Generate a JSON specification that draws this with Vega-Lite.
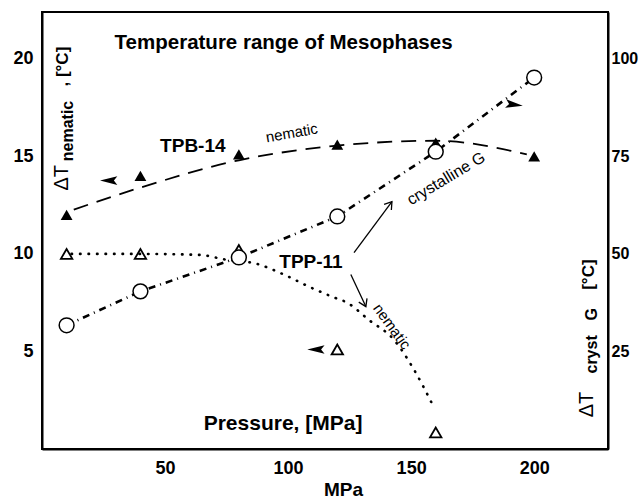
{
  "$schema": "https://vega.github.io/schema/vega-lite/v6.json",
  "width": 566,
  "height": 437,
  "autosize": {"type": "none"},
  "padding": {"left": 42, "top": 12, "right": 33, "bottom": 49},
  "background": "white",
  "config": {
    "view": {"stroke": "black", "strokeWidth": 2},
    "axis": {"domainColor": "black", "domainWidth": 2, "ticks": false, "labelFont": "Liberation Sans", "labelFontWeight": "bold", "labelFontSize": 18, "labelColor": "black", "grid": false, "titleFont": "Liberation Sans", "titleColor": "black"},
    "text": {"font": "Liberation Sans", "color": "black"}
  },
  "datasets": {
    "tpb": [{"p": 10, "t": 12.0}, {"p": 40, "t": 14.0}, {"p": 80, "t": 15.1}, {"p": 120, "t": 15.6}, {"p": 160, "t": 15.7}, {"p": 200, "t": 15.0}],
    "tpbCurve": [{"p": 12.9, "t": 12.27}, {"p": 40, "t": 13.4}, {"p": 80, "t": 14.8}, {"p": 120, "t": 15.55}, {"p": 160, "t": 15.8}, {"p": 197, "t": 15.1}],
    "tppNem": [{"p": 10, "t": 10.0}, {"p": 40, "t": 10.0}, {"p": 80, "t": 10.2}, {"p": 120, "t": 5.1}, {"p": 160, "t": 0.85}],
    "tppNemCurve": [{"p": 12, "t": 10.0}, {"p": 40, "t": 10.0}, {"p": 64, "t": 9.95}, {"p": 75, "t": 9.7}, {"p": 87, "t": 9.5}, {"p": 99, "t": 8.9}, {"p": 108, "t": 8.35}, {"p": 118, "t": 7.8}, {"p": 124, "t": 7.5}, {"p": 133, "t": 6.6}, {"p": 143, "t": 5.6}, {"p": 151, "t": 4.1}, {"p": 159, "t": 2.2}],
    "tppCryst": [{"p": 10, "c": 31.7}, {"p": 40, "c": 40.4}, {"p": 80, "c": 49.1}, {"p": 120, "c": 59.6}, {"p": 160, "c": 76.2}, {"p": 200, "c": 95.2}]
  },
  "encoding": {
    "x": {"field": "p", "type": "quantitative", "scale": {"domain": [0, 230], "nice": false, "zero": false},
      "axis": {"values": [50, 100, 150, 200], "title": "MPa", "titleFontSize": 19, "titleFontWeight": "bold", "labelPadding": 10, "titleX": 301, "titleY": 40, "titleAlign": "center", "titleBaseline": "middle"}}
  },
  "layer": [
    {
      "data": {"name": "tpbCurve"},
      "mark": {"type": "line", "interpolate": "monotone", "color": "black", "strokeWidth": 1.8, "strokeDash": [15, 9]},
      "encoding": {"y": {"field": "t", "type": "quantitative", "scale": {"domain": [0, 22.4], "nice": false}, "axis": {"orient": "left", "values": [5, 10, 15, 20], "title": null, "labelPadding": 9}}}
    },
    {
      "data": {"name": "tppNemCurve"},
      "mark": {"type": "line", "interpolate": "monotone", "color": "black", "strokeWidth": 2.6, "strokeDash": [0.5, 8], "strokeCap": "round"},
      "encoding": {"y": {"field": "t", "type": "quantitative", "scale": {"domain": [0, 22.4], "nice": false}, "axis": null}}
    },
    {
      "data": {"name": "tpb"},
      "mark": {"type": "point", "shape": "triangle-up", "filled": true, "color": "black", "size": 140, "opacity": 1},
      "encoding": {"y": {"field": "t", "type": "quantitative", "scale": {"domain": [0, 22.4], "nice": false}, "axis": null}}
    },
    {
      "data": {"name": "tppNem"},
      "mark": {"type": "point", "shape": "triangle-up", "filled": false, "color": "black", "strokeWidth": 1.8, "size": 130, "opacity": 1},
      "encoding": {"y": {"field": "t", "type": "quantitative", "scale": {"domain": [0, 22.4], "nice": false}, "axis": null}}
    },
    {
      "data": {"values": [{"p": 27.1, "t": 13.76}, {"p": 111.3, "t": 5.1}]},
      "mark": {"type": "point", "shape": "M -1 0 L 1 -0.5 L 0.6 0 L 1 0.5 Z", "filled": true, "color": "black", "size": 300, "opacity": 1},
      "encoding": {"y": {"field": "t", "type": "quantitative", "scale": {"domain": [0, 22.4], "nice": false}, "axis": null}}
    },
    {
      "data": {"values": [{"p": 191.9, "t": 17.65}]},
      "mark": {"type": "point", "shape": "M 1 0 L -1 -0.5 L -0.6 0 L -1 0.5 Z", "filled": true, "color": "black", "size": 300, "opacity": 1, "angle": 8},
      "encoding": {"y": {"field": "t", "type": "quantitative", "scale": {"domain": [0, 22.4], "nice": false}, "axis": null}}
    },
    {
      "data": {"values": [{"p": 126.8, "t": 10.07, "p2": 142.2, "t2": 12.68}, {"p": 125.5, "t": 8.94, "p2": 131.6, "t2": 7.3}]},
      "mark": {"type": "rule", "color": "black", "strokeWidth": 1.3},
      "encoding": {
        "x2": {"field": "p2"},
        "y": {"field": "t", "type": "quantitative", "scale": {"domain": [0, 22.4], "nice": false}, "axis": null},
        "y2": {"field": "t2"}
      }
    },
    {
      "data": {"values": [{"p": 142.2, "t": 12.68}]},
      "mark": {"type": "point", "shape": "M -1 -0.65 L 0 0 L -1 0.65", "filled": false, "color": "black", "strokeWidth": 1.3, "size": 196, "opacity": 1, "angle": -53},
      "encoding": {"y": {"field": "t", "type": "quantitative", "scale": {"domain": [0, 22.4], "nice": false}, "axis": null}}
    },
    {
      "data": {"values": [{"p": 131.6, "t": 7.3}]},
      "mark": {"type": "point", "shape": "M -1 -0.65 L 0 0 L -1 0.65", "filled": false, "color": "black", "strokeWidth": 1.3, "size": 196, "opacity": 1, "angle": 65},
      "encoding": {"y": {"field": "t", "type": "quantitative", "scale": {"domain": [0, 22.4], "nice": false}, "axis": null}}
    },
    {
      "data": {"values": [{"p": 29.5, "t": 20.83, "label": "Temperature range of Mesophases"}]},
      "mark": {"type": "text", "fontSize": 20.5, "fontWeight": "bold", "align": "left", "baseline": "middle"},
      "encoding": {"y": {"field": "t", "type": "quantitative", "scale": {"domain": [0, 22.4], "nice": false}, "axis": null}, "text": {"field": "label"}}
    },
    {
      "data": {"values": [{"p": 65.7, "t": 1.26, "label": "Pressure, [MPa]"}]},
      "mark": {"type": "text", "fontSize": 21, "fontWeight": "bold", "align": "left", "baseline": "middle"},
      "encoding": {"y": {"field": "t", "type": "quantitative", "scale": {"domain": [0, 22.4], "nice": false}, "axis": null}, "text": {"field": "label"}}
    },
    {
      "data": {"values": [{"p": 61.3, "t": 15.55, "label": "TPB-14"}, {"p": 109.3, "t": 9.6, "label": "TPP-11"}]},
      "mark": {"type": "text", "fontSize": 19, "fontWeight": "bold", "align": "center", "baseline": "middle"},
      "encoding": {"y": {"field": "t", "type": "quantitative", "scale": {"domain": [0, 22.4], "nice": false}, "axis": null}, "text": {"field": "label"}}
    },
    {
      "data": {"values": [{"p": 101.5, "t": 16.2, "label": "nematic"}]},
      "mark": {"type": "text", "fontSize": 15, "align": "center", "baseline": "middle", "angle": -10},
      "encoding": {"y": {"field": "t", "type": "quantitative", "scale": {"domain": [0, 22.4], "nice": false}, "axis": null}, "text": {"field": "label"}}
    },
    {
      "data": {"values": [{"p": 142.2, "t": 6.28, "label": "nematic"}]},
      "mark": {"type": "text", "fontSize": 15, "align": "center", "baseline": "middle", "angle": 54},
      "encoding": {"y": {"field": "t", "type": "quantitative", "scale": {"domain": [0, 22.4], "nice": false}, "axis": null}, "text": {"field": "label"}}
    },
    {
      "data": {"values": [{"p": 164.2, "t": 13.86, "label": "crystalline G"}]},
      "mark": {"type": "text", "fontSize": 16, "align": "center", "baseline": "middle", "angle": -31},
      "encoding": {"y": {"field": "t", "type": "quantitative", "scale": {"domain": [0, 22.4], "nice": false}, "axis": null}, "text": {"field": "label"}}
    },
    {
      "data": {"values": [{"p": 8.0, "t": 13.9, "label": "ΔT"}, {"p": 221.6, "t": 2.28, "label": "ΔT"}]},
      "mark": {"type": "text", "fontSize": 20, "align": "center", "baseline": "middle", "angle": 270},
      "encoding": {"y": {"field": "t", "type": "quantitative", "scale": {"domain": [0, 22.4], "nice": false}, "axis": null}, "text": {"field": "label"}}
    },
    {
      "data": {"values": [{"p": 10.6, "t": 16.3, "label": "nematic"}, {"p": 223.6, "t": 4.85, "label": "cryst"}, {"p": 223.6, "t": 6.9, "label": "G"}]},
      "mark": {"type": "text", "fontSize": 16, "fontWeight": "bold", "align": "center", "baseline": "middle", "angle": 270},
      "encoding": {"y": {"field": "t", "type": "quantitative", "scale": {"domain": [0, 22.4], "nice": false}, "axis": null}, "text": {"field": "label"}}
    },
    {
      "data": {"values": [{"p": 8.4, "t": 19.6, "label": ", [°C]"}, {"p": 222.4, "t": 8.94, "label": "[°C]"}]},
      "mark": {"type": "text", "fontSize": 17, "fontWeight": "bold", "align": "center", "baseline": "middle", "angle": 270},
      "encoding": {"y": {"field": "t", "type": "quantitative", "scale": {"domain": [0, 22.4], "nice": false}, "axis": null}, "text": {"field": "label"}}
    },
    {
      "data": {"name": "tppCryst"},
      "mark": {"type": "line", "color": "black", "strokeWidth": 2.6, "strokeDash": [7, 5, 1, 5]},
      "encoding": {"y": {"field": "c", "type": "quantitative", "scale": {"domain": [0, 112], "nice": false}, "axis": {"orient": "right", "values": [25, 50, 75, 100], "title": null, "labelPadding": 3, "labelFontSize": 16}}}
    },
    {
      "data": {"name": "tppCryst"},
      "mark": {"type": "point", "shape": "circle", "filled": true, "fill": "white", "stroke": "black", "strokeWidth": 1.5, "size": 220, "opacity": 1},
      "encoding": {"y": {"field": "c", "type": "quantitative", "scale": {"domain": [0, 112], "nice": false}, "axis": null}}
    }
  ],
  "resolve": {"scale": {"y": "independent"}}
}
